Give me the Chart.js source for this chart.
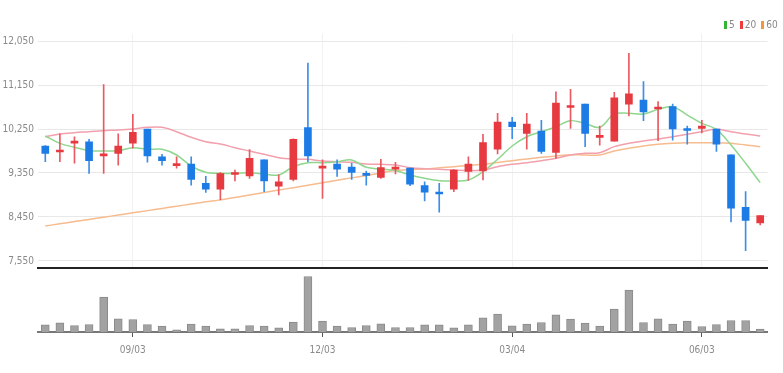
<!DOCTYPE html>
<html><head><meta charset="utf-8">
<script src="https://cdn.jsdelivr.net/npm/chart.js@4.4.1/dist/chart.umd.min.js"></script>
<style>
html,body{margin:0;padding:0;background:#fff;}
#wrap{position:relative;width:783px;height:373px;overflow:hidden;background:#fff;}
#c1{position:absolute;left:0;top:0;}
#c2{position:absolute;left:0;top:270px;}
#legend{position:absolute;left:724px;top:20px;display:flex;align-items:center;font:10px "Liberation Sans Narrow","DejaVu Sans Condensed",sans-serif;color:#888;line-height:10px;}
#legend .it{display:flex;align-items:center;margin-right:5px;}
#legend .bx{display:inline-block;width:3px;height:8px;margin-right:2px;}
</style></head>
<body><div id="wrap">
<canvas id="c1" width="783" height="280"></canvas>
<canvas id="c2" width="783" height="103"></canvas>
<div id="legend"></div>
</div>
<script>
const weeks = ['07/23','07/30','08/06','08/13','08/20','08/27','09/03','09/10','09/17','09/24','10/01','10/08','10/15','10/22','10/29','11/05','11/12','11/19','11/26','12/03','12/10','12/17','12/24','12/31','01/07','01/14','01/21','01/28','02/04','02/11','02/18','02/25','03/04','03/11','03/18','03/25','04/01','04/08','04/15','04/22','04/29','05/06','05/13','05/20','05/27','06/03','06/10','06/17','06/24','07/01'];
const tickLabels = ['09/03','12/03','03/04','06/03'];
const yTicks = [7550, 8450, 9350, 10250, 11150, 12050];

const open  = [9900,9780,9960,9990,9700,9750,9960,10250,9680,9500,9530,9140,9020,9320,9290,9620,9080,9220,10280,9450,9530,9470,9340,9260,9430,9450,9090,8960,9020,9380,9390,9840,10390,10160,10210,9770,10690,10760,10080,10000,10760,10840,10660,10710,10260,10260,10250,9720,8650,8330];
const high  = [9910,10150,10090,10040,11160,10150,10550,10250,9730,9680,9680,9280,9360,9410,9830,9620,9310,10050,11600,9620,9620,9550,9390,9630,9570,9450,9170,9140,9420,9680,10140,10570,10490,10570,10430,11010,11060,10760,10310,11000,11800,11220,10810,10760,10310,10430,10250,9720,8970,8480];
const low   = [9580,9580,9550,9340,9340,9510,9860,9570,9510,9450,9100,8950,8800,9190,9240,8970,8900,9190,9580,8830,9280,9220,9100,9240,9330,9090,8780,8550,8970,9200,9210,9740,10050,9840,9750,9650,10260,9890,9920,10000,10520,10420,10010,10020,9940,10170,9790,8350,7760,8290];
const close = [9750,9810,9990,9600,9730,9900,10180,9700,9600,9530,9220,9020,9340,9360,9650,9190,9170,10040,9700,9490,9430,9360,9300,9460,9460,9120,8960,8920,9410,9530,9970,10390,10300,10350,9790,10780,10720,10160,10110,10890,10970,10600,10700,10250,10220,10310,9940,8630,8380,8480];

const ma5  = [10107,9957,9875,9806,9800,9806,9868,9834,9834,9718,9493,9364,9344,9344,9357,9330,9309,9480,9561,9561,9581,9616,9466,9432,9400,9309,9241,9193,9186,9207,9377,9630,9902,10092,10195,10297,10420,10366,10284,10557,10570,10557,10652,10707,10536,10366,10243,9923,9548,9152];
const ma20 = [10092,10147,10175,10195,10216,10229,10250,10284,10284,10195,10080,9990,9943,9868,9800,9732,9664,9636,9630,9595,9581,9568,9534,9527,9513,9459,9438,9425,9411,9398,9411,9480,9527,9561,9602,9650,9718,9752,9766,9889,9957,10004,10045,10092,10141,10195,10243,10195,10147,10107];
const ma60 = [8266,8311,8356,8400,8445,8490,8535,8580,8625,8670,8715,8760,8800,8850,8900,8950,9000,9050,9100,9150,9200,9250,9300,9350,9400,9420,9432,9455,9480,9505,9527,9565,9602,9635,9671,9700,9725,9718,9718,9800,9855,9902,9936,9957,9970,9970,9970,9957,9923,9889];

const volume = [144,184,130,150,696,264,250,150,116,44,156,116,64,64,130,116,84,196,1110,216,116,90,130,164,90,90,144,144,84,144,284,356,124,156,190,344,256,176,116,456,836,190,264,156,216,110,150,230,230,56];

const FONT = '"Liberation Sans Narrow","DejaVu Sans Condensed",sans-serif';
const UP = '#e63a40', DOWN = '#1d7be6';
const candleColors = open.map((o,i) => close[i] >= o ? UP : DOWN);
const wickColors = open.map((o,i) => close[i] >= o ? '#ea5a60' : '#3d8ee8');

const maDefs = [
  {label:'5',  data: ma5,  line:'#8fd68f', legend:'#35b535'},
  {label:'20', data: ma20, line:'#f3a0ad', legend:'#ee3b3b'},
  {label:'60', data: ma60, line:'#f6bb8e', legend:'#f5963a'}
];

const showTicks = s => { s.ticks = s.ticks.filter(t => tickLabels.includes(weeks[t.value])); };

new Chart(document.getElementById('c1'), {
  type: 'bar',
  data: {
    labels: weeks,
    datasets: [
      ...maDefs.map(m => ({type:'line', label:m.label, data:m.data, borderColor:m.line, borderWidth:1.5, pointRadius:0, tension:0.35, fill:false, order:5})),
      {label:'wick', data: low.map((l,i) => [l, high[i]]), backgroundColor: wickColors, barThickness:1, grouped:false, order:2},
      {label:'body', data: open.map((o,i) => [o, close[i]]), backgroundColor: candleColors, barThickness:7, minBarLength:2, grouped:false, order:1}
    ]
  },
  options: {
    responsive:false, animation:false,
    layout:{padding:{left:0, right:15.5, top:33.7, bottom:11.7}},
    plugins:{legend:{display:false}, tooltip:{enabled:false}},
    scales:{
      x:{offset:true, afterBuildTicks: showTicks,
         grid:{offset:false, color:'#f2f2f2', drawTicks:false},
         ticks:{display:false, autoSkip:false},
         border:{display:true, color:'#222', width:2}},
      y:{min:7400, max:12200,
         afterBuildTicks: s => { s.ticks = yTicks.map(v => ({value:v})); },
         afterFit: s => { s.width = 38; },
         grid:{color:'#e8e8e8', drawTicks:false},
         border:{display:false},
         ticks:{color:'#8a8a8a', padding:4, font:{family:FONT, size:10}, callback: v => Number(v).toLocaleString('en-US')}}
    }
  }
});

new Chart(document.getElementById('c2'), {
  type: 'bar',
  data: {labels: weeks, datasets:[{label:'volume', data: volume, backgroundColor:'#a2a2a2', borderColor:'#8a8a8a', borderWidth:1, barThickness:8}]},
  options: {
    responsive:false, animation:false,
    layout:{padding:{left:38, right:15.5, top:2, bottom:10}},
    plugins:{legend:{display:false}, tooltip:{enabled:false}},
    scales:{
      x:{offset:true, afterBuildTicks: showTicks,
         grid:{offset:false, drawOnChartArea:false, tickLength:5, color:'#555'},
         border:{color:'#777', width:2},
         ticks:{autoSkip:false, maxRotation:0, padding:7, color:'#8a8a8a', font:{family:FONT, size:10}}},
      y:{display:false, min:0, max:1200}
    }
  }
});

const lg = document.getElementById('legend');
maDefs.forEach(m => {
  const it = document.createElement('span'); it.className = 'it';
  const bx = document.createElement('span'); bx.className = 'bx'; bx.style.background = m.legend;
  const tx = document.createElement('span'); tx.textContent = m.label;
  it.appendChild(bx); it.appendChild(tx); lg.appendChild(it);
});
</script>
</body></html>
